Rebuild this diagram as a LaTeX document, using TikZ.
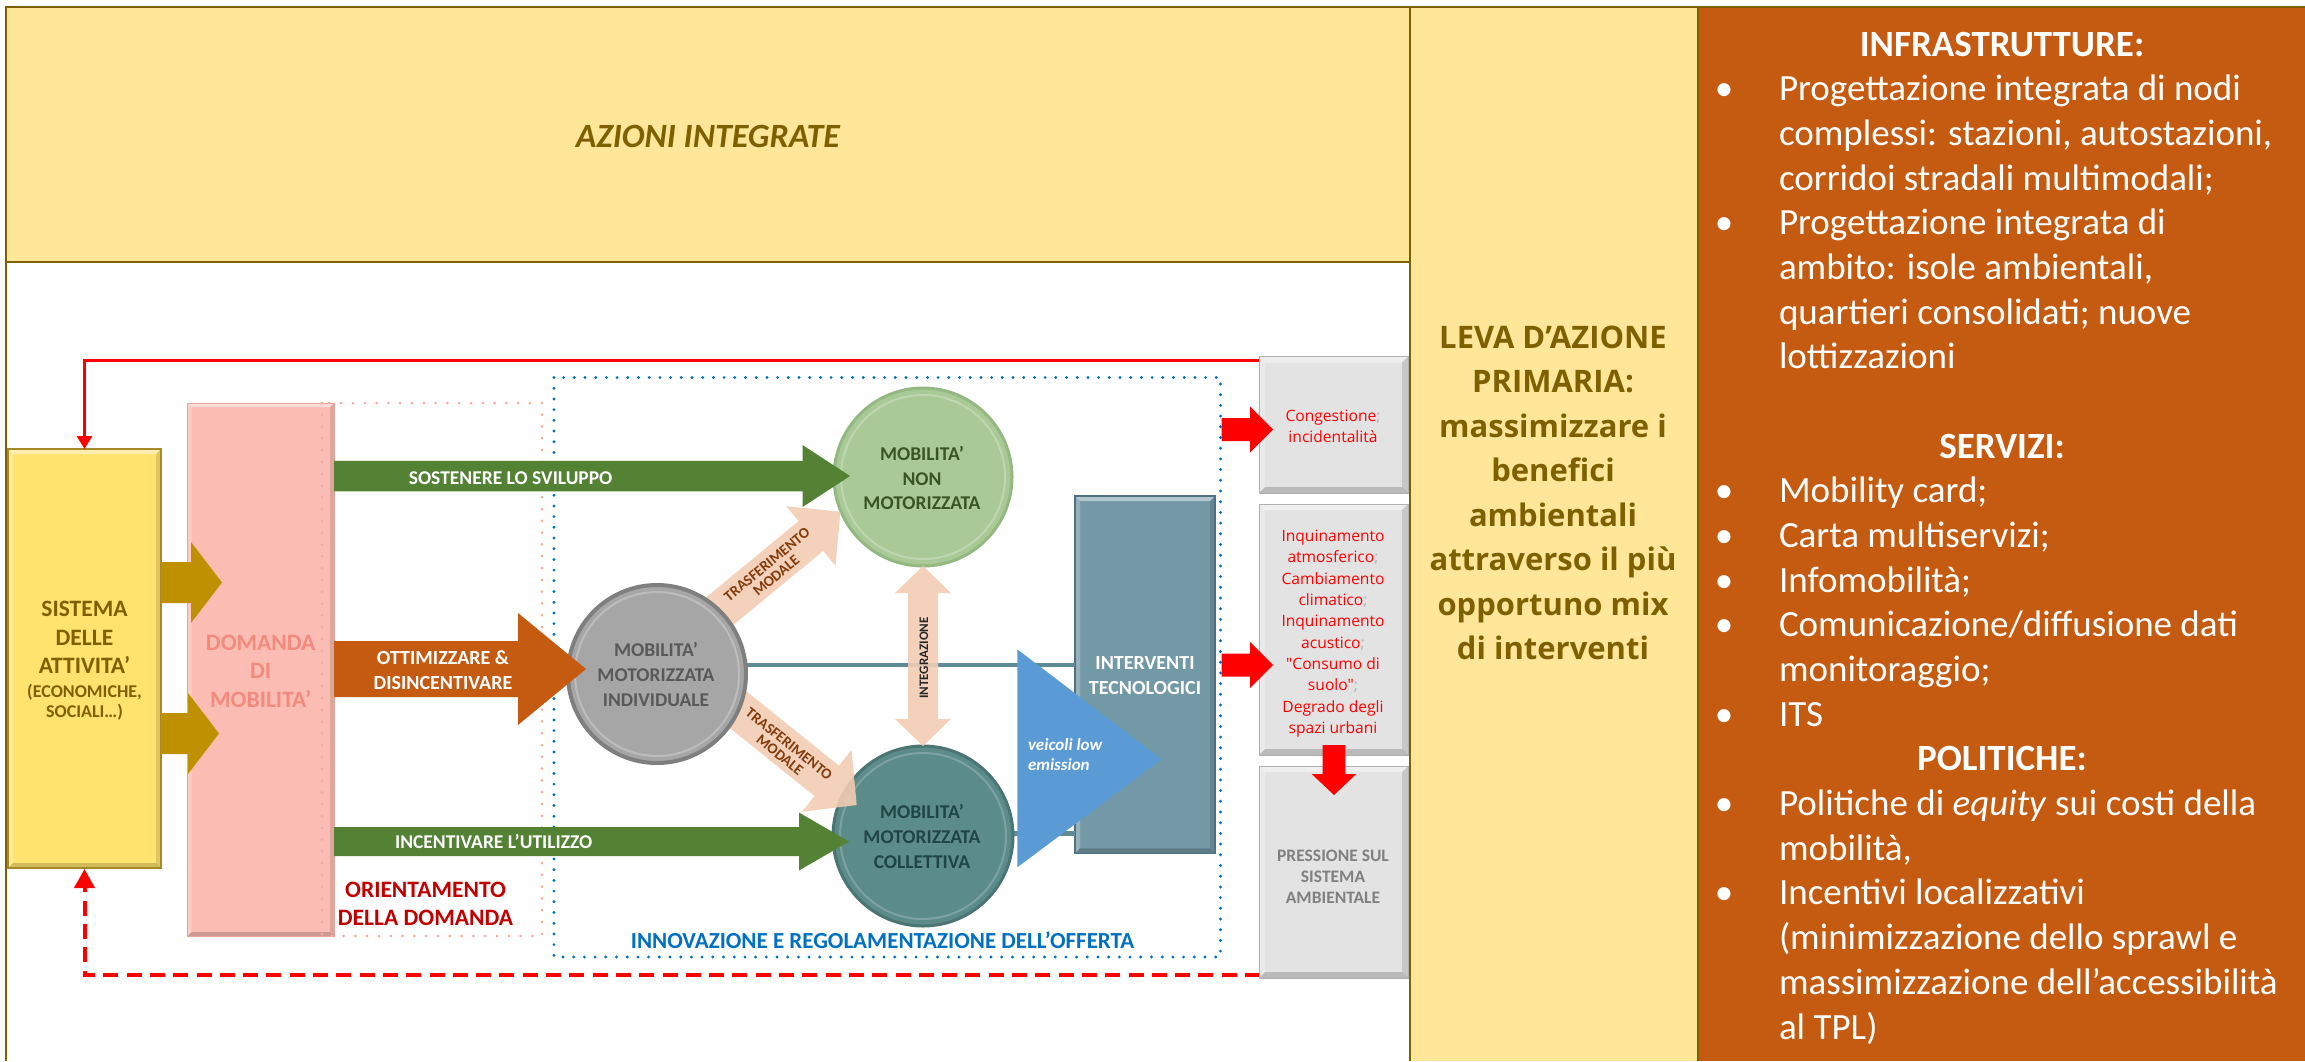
\documentclass[tikz,border=0pt]{standalone}
\usepackage{fontspec}
\setmainfont{Carlito}
\newfontfamily\osans{Open Sans}
\usetikzlibrary{calc,arrows.meta}
\definecolor{tb}{HTML}{7F6000}
\definecolor{hy}{HTML}{FFE699}
\definecolor{oc}{HTML}{C55A11}
\definecolor{sisf}{HTML}{FFE36E}
\definecolor{sisd}{HTML}{A8892A}
\definecolor{domf}{HTML}{FBBDB3}
\definecolor{domd}{HTML}{E6A89E}
\definecolor{domt}{HTML}{F28B7D}
\definecolor{goldc}{HTML}{BF9000}
\definecolor{grn}{HTML}{548235}
\definecolor{peach}{HTML}{F2CCB3}
\definecolor{nmf}{HTML}{A9CA97}
\definecolor{nmd}{HTML}{93B881}
\definecolor{nmt}{HTML}{375623}
\definecolor{inf}{HTML}{A6A6A6}
\definecolor{ind}{HTML}{7F7F7F}
\definecolor{intx}{HTML}{595959}
\definecolor{cof}{HTML}{5C8C8A}
\definecolor{cod}{HTML}{4A7573}
\definecolor{cot}{HTML}{1F4545}
\definecolor{tline}{HTML}{5F8B96}
\definecolor{itf}{HTML}{7398A6}
\definecolor{itd}{HTML}{4F7282}
\definecolor{tri}{HTML}{5B9BD5}
\definecolor{bdot}{HTML}{0070C0}
\definecolor{pdot}{HTML}{F4ACA0}
\definecolor{dred}{HTML}{C00000}
\definecolor{trt}{HTML}{843C0C}
\definecolor{gbf}{HTML}{E3E3E3}
\definecolor{gbd}{HTML}{B0B0B0}
\definecolor{gtx}{HTML}{808080}
\definecolor{semi}{HTML}{B0B0B0}
\definecolor{rd}{HTML}{FF0000}
\newcommand\fz[1]{\fontsize{#1}{#1}\selectfont}
\newcommand\semic{\textcolor{semi}{;}}
% block arrow: #1 opts, #2 start, #3 tip, #4 half shaft, #5 half head, #6 head length
\newcommand\blockarr[6]{%
  \coordinate (bah) at ($(#3)!#6!(#2)$);
  \fill[#1] ($(#2)!#4!90:(#3)$) -- ($(bah)!#4!90:(#3)$) -- ($(bah)!#5!90:(#3)$) -- (#3)
    -- ($(bah)!#5!-90:(#3)$) -- ($(bah)!#4!-90:(#3)$) -- ($(#2)!#4!-90:(#3)$) -- cycle;}
% lines of text: #1 name prefix, #2 x, #3 first baseline, #4 spacing, #5 style, #6 list
\newcommand\tlines[6]{%
  \foreach \tx [count=\ti from 0] in {#6}{%
    \node[#5,anchor=base] (#1\ti) at (#2,{#3+\ti*#4}) {\tx};}}
\tikzset{
  bev/.style={path picture={
    \coordinate (bnw) at (path picture bounding box.north west);
    \coordinate (bse) at (path picture bounding box.south east);
    \fill[white,opacity=.45] (bnw) -- (bnw-|bse) -- ($(bnw-|bse)+(-#1,#1)$) -- ($(bnw)+(#1,#1)$) -- cycle;
    \fill[white,opacity=.25] (bnw) -- ($(bnw)+(#1,#1)$) -- ($(bnw|-bse)+(#1,-#1)$) -- (bnw|-bse) -- cycle;
    \fill[black,opacity=.18] (bnw|-bse) -- ($(bnw|-bse)+(#1,-#1)$) -- ($(bse)+(-#1,-#1)$) -- (bse) -- cycle;
    \fill[black,opacity=.12] (bse) -- ($(bse)+(-#1,-#1)$) -- ($(bnw-|bse)+(-#1,#1)$) -- (bnw-|bse) -- cycle;
  }},
  gbox/.style={draw=gbd, line width=1pt, fill=gbf, bev=6, anchor=north west, minimum width=149pt},
  cb/.style={font=\bfseries\fz{#1}},
  redtx/.style={font=\osans\fz{15.6}, text=rd},
  wt/.style={font=\fz{37}, text=white},
  wh/.style={font=\bfseries\fz{37}, text=white},
  tableline/.style={tb, line width=2.5pt},
}
\begin{document}
\begin{tikzpicture}[x=1pt,y=-1pt, every node/.style={inner sep=0pt,outer sep=0pt}]
\useasboundingbox (0,0) rectangle (2305,1061);
\fill[white] (0,0) rectangle (2305,1061);
% ---------- table ----------
\fill[hy] (6,7) rectangle (1410,262);
\fill[hy] (1410,7) rectangle (1698,1061);
\fill[oc] (1698,7) rectangle (2305,1061);
\draw[tableline] (6,1061) -- (6,7) -- (2305,7);
\draw[tableline] (6,262) -- (1410,262);
\draw[tableline] (1410,7) -- (1410,1061);
\draw[tableline] (1698,7) -- (1698,1061);
\node[font=\bfseries\itshape\fz{34}, text=tb, anchor=base] (azioni) at (708,147) {AZIONI INTEGRATE};
\tlines{leva}{1553}{348}{44.5}{font=\osans\bfseries\fz{31}, text=tb}{LEVA D’AZIONE, PRIMARIA:, massimizzare i, benefici, ambientali, attraverso il più, opportuno mix, di interventi}
% ---------- right column ----------
\node[wh,anchor=base] (h1) at (2002,56) {INFRASTRUTTURE:};
\node[wh,anchor=base] (h2) at (2002,458.1) {SERVIZI:};
\node[wh,anchor=base] (h3) at (2002,770.9) {POLITICHE:};
\foreach \yy [count=\bi] in {100.7,234.7,502.8,547.5,592.2,636.8,726.2,815.6,904.9}
  \node[wt,anchor=base] (bul\bi) at (1724,\yy) {•};
\node[wt,anchor=base west] (r1) at (1779,100.7) {Progettazione integrata di nodi};
\node[wt,anchor=base west] (r2) at (1779,145.4) {complessi: stazioni, autostazioni,};
\node[wt,anchor=base west] (r3) at (1779,190.0) {corridoi stradali multimodali;};
\node[wt,anchor=base west] (r4) at (1779,234.7) {Progettazione integrata di};
\node[wt,anchor=base west] (r5) at (1779,279.4) {ambito: isole ambientali,};
\node[wt,anchor=base west] (r6) at (1779,324.1) {quartieri consolidati; nuove};
\node[wt,anchor=base west] (r7) at (1779,368.8) {lottizzazioni};
\node[wt,anchor=base west] (r8) at (1779,502.8) {Mobility card;};
\node[wt,anchor=base west] (r9) at (1779,547.5) {Carta multiservizi;};
\node[wt,anchor=base west] (r10) at (1779,592.2) {Infomobilità;};
\node[wt,anchor=base west] (r11) at (1779,636.8) {Comunicazione/diffusione dati};
\node[wt,anchor=base west] (r12) at (1779,681.5) {monitoraggio;};
\node[wt,anchor=base west] (r13) at (1779,726.2) {ITS};
\node[wt,anchor=base west] (r14) at (1779,815.6) {Politiche di \textit{equity} sui costi della};
\node[wt,anchor=base west] (r15) at (1779,860.2) {mobilità,};
\node[wt,anchor=base west] (r16) at (1779,904.9) {Incentivi localizzativi};
\node[wt,anchor=base west] (r17) at (1779,949.6) {(minimizzazione dello sprawl e};
\node[wt,anchor=base west] (r18) at (1779,994.3) {massimizzazione dell’accessibilità};
\node[wt,anchor=base west] (r19) at (1779,1039.0) {al TPL)};
% ---------- left diagram ----------
\node[fill=domf, draw=domd, line width=1pt, bev=4, minimum width=146.5pt, minimum height=533pt, anchor=north west] (domanda) at (187.5,403) {};
\draw[pdot, line width=3pt, line cap=round, dash pattern=on 0pt off 11.8pt] (322,403) rectangle (542,936);
\draw[bdot, line width=3.2pt, line cap=round, dash pattern=on 0pt off 10.7pt] (554,377.5) rectangle (1220.5,957);
\node[fill=sisf, draw=sisd, line width=1.5pt, bev=5, minimum width=153pt, minimum height=419pt, anchor=north west] (sistema) at (8,449) {};
% feedback lines
\coordinate (rtop) at (1260,360);
\coordinate (rbot) at (1260,975);
\draw[rd, line width=3pt, -{Triangle[width=15pt,length=13pt]}] (rtop) -| (sistema.north);
\draw[rd, line width=4pt, dash pattern=on 15pt off 8.3pt, -{Triangle[width=20pt,length=19pt]}] (rbot) -| ($(sistema.south)+(0,1)$);
% gray boxes
\node[gbox, minimum height=136.4pt] (cong) at (1259,356.6) {};
\node[gbox, minimum height=251pt] (inq) at (1259,504) {};
\node[gbox, minimum height=212pt] (press) at (1259,766) {};
% gold arrows
\coordinate (a1s) at (161,582.5); \coordinate (a1e) at (222,582.5);
\coordinate (a2s) at (161,733.5); \coordinate (a2e) at (219,733.5);
\blockarr{goldc}{a1s}{a1e}{20.5pt}{40.5pt}{31pt}
\blockarr{goldc}{a2s}{a2e}{20.5pt}{40.5pt}{31pt}
% interventi
\node[fill=itf, draw=itd, line width=1.5pt, bev=5, minimum width=140pt, minimum height=357.3pt, anchor=north west] (interv) at (1075,496) {};
\coordinate (tl1) at (740,665);
\coordinate (tl2) at (1005,833.3);
\draw[tline, line width=4.7pt] (tl1) -- (tl1 -| interv.west);
\draw[tline, line width=4.7pt] (tl2) -- (tl2 -| interv.west);
% circles
\node[circle, minimum size=178pt, fill=nmf, draw=nmd, line width=3pt] (nonmot) at (923,477) {};
\draw[white, opacity=.25, line width=2pt] (nonmot.center) circle (82);
\node[circle, minimum size=180pt, fill=cof, draw=cod, line width=3pt] (coll) at (923,836) {};
\draw[white, opacity=.2, line width=2pt] (coll.center) circle (83);
% transfer arrows
\coordinate (t1s) at (696.8,630); \coordinate (t1e) at (840.4,511.7);
\coordinate (t2s) at (708.7,686); \coordinate (t2e) at (856.7,805);
\blockarr{peach, fill opacity=.9}{t1s}{t1e}{19.3pt}{38.6pt}{38.2pt}
\blockarr{peach, fill opacity=.9}{t2s}{t2e}{19.5pt}{39.7pt}{38.5pt}
% integrazione double arrow
\path (nonmot.south) coordinate (ia) (coll.north) coordinate (ib);
\fill[peach, fill opacity=.9] (ia) -- ($(ia)+(28,27)$) -- ($(ia)+(15,27)$) -- ($(ib)+(15,-27)$) -- ($(ib)+(28,-27)$) -- (ib)
  -- ($(ib)+(-28,-27)$) -- ($(ib)+(-15,-27)$) -- ($(ia)+(-15,27)$) -- ($(ia)+(-28,27)$) -- cycle;
\node[circle, minimum size=178pt, fill=inf, draw=ind, line width=4pt] (indiv) at (657,674) {};
\draw[white, opacity=.25, line width=2pt] (indiv.center) circle (82);
% green and orange arrows
\coordinate (g1s) at (334,476); \coordinate (g1e) at (850,476);
\coordinate (g2s) at (334,841.5); \coordinate (g2e) at (849,841.5);
\coordinate (o1s) at (334,669); \coordinate (o1e) at (586,669);
\blockarr{grn}{g1s}{g1e}{15.25pt}{31pt}{47.5pt}
\blockarr{grn}{g2s}{g2e}{14.5pt}{29pt}{50pt}
\blockarr{oc}{o1s}{o1e}{28pt}{56pt}{68pt}
% blue triangle
\coordinate (trA) at (1017.3,649.3); \coordinate (trB) at (1161.7,759.3); \coordinate (trC) at (1017.3,867.3);
\fill[tri] (trA) -- (trB) -- (trC) -- cycle;
% red block arrows
\coordinate (r1s) at (1221.7,429.5); \coordinate (r1e) at (1273,429.5);
\coordinate (r2s) at (1221.7,665); \coordinate (r2e) at (1273,665);
\coordinate (r3s) at (1334,745); \coordinate (r3e) at (1334,795);
\blockarr{rd}{r1s}{r1e}{11.5pt}{23pt}{23pt}
\blockarr{rd}{r2s}{r2e}{11.5pt}{23pt}{23pt}
\blockarr{rd}{r3s}{r3e}{11.3pt}{22.3pt}{21pt}
% ---------- texts ----------
\tlines{sis}{84.5}{616.7}{28.5}{cb=23.5, text=tb}{SISTEMA, DELLE, ATTIVITA’}
\node[cb=18, text=tb, anchor=base] (sisx) at (84.5,697) {(ECONOMICHE,};
\node[cb=18, text=tb, anchor=base] (sisy) at (84.5,717.5) {SOCIALI…)};
\tlines{dom}{260.7}{650}{28.5}{cb=23.5, text=domt}{DOMANDA, DI, MOBILITA’}
\tlines{ott}{443}{664}{25}{cb=20, text=white}{OTTIMIZZARE \&, DISINCENTIVARE}
\node[cb=19.5, text=white, anchor=base] (sost) at (510.6,484) {SOSTENERE LO SVILUPPO};
\node[cb=19.5, text=white, anchor=base] (incent) at (493.7,848) {INCENTIVARE L’UTILIZZO};
\tlines{ori}{425.5}{897.3}{27.7}{cb=23.5, text=dred}{ORIENTAMENTO, DELLA DOMANDA}
\node[cb=23, text=bdot, anchor=base] (innov) at (882.5,948.7) {INNOVAZIONE E REGOLAMENTAZIONE DELL’OFFERTA};
\tlines{nm}{922}{460.5}{24.5}{cb=19.5, text=nmt}{MOBILITA’, NON, MOTORIZZATA}
\tlines{id}{656}{656}{25.2}{cb=19.5, text=intx}{MOBILITA’, MOTORIZZATA, INDIVIDUALE}
\tlines{co}{922}{818}{25.2}{cb=19.5, text=cot}{MOBILITA’, MOTORIZZATA, COLLETTIVA}
\node[font=\bfseries\fz{15}, text=trt, align=center, rotate=39.6] (trf1) at (771.5,570) {TRASFERIMENTO\\[-0.5pt]MODALE};
\node[font=\bfseries\fz{15}, text=trt, align=center, rotate=-38.8] (trf2) at (784.5,749.5) {TRASFERIMENTO\\[-0.5pt]MODALE};
\node[font=\bfseries\fz{13}, text=black!85, rotate=90] (integ) at (924,658) {INTEGRAZIONE};
\tlines{iv}{1145}{669}{25}{cb=20, text=white}{INTERVENTI, TECNOLOGICI}
\node[font=\bfseries\itshape\fz{17}, text=white, anchor=base west] (veic1) at (1028,750) {veicoli low};
\node[font=\bfseries\itshape\fz{17}, text=white, anchor=base west] (veic2) at (1028,770.5) {emission};
\tlines{cg}{1333}{421.8}{20.2}{redtx}{Congestione\semic, incidentalità}
\tlines{iq}{1333}{541.6}{21.3}{redtx}{Inquinamento, atmosferico\semic, Cambiamento, climatico\semic, Inquinamento, acustico\semic, "Consumo di, suolo"\semic, Degrado degli, spazi urbani}
\tlines{pr}{1333}{861.7}{20.8}{cb=17.5, text=gtx}{PRESSIONE SUL, SISTEMA, AMBIENTALE}
\end{tikzpicture}
\end{document}
